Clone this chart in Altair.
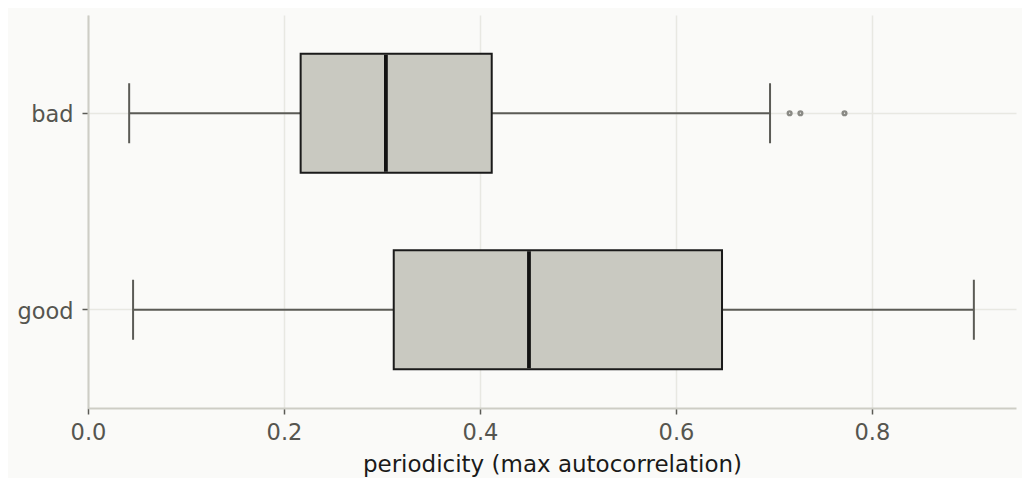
import altair as alt
import pandas as pd

# values
groups = ["bad", "good"]
whisker_lo = [0.042, 0.046]
q1 = [0.217, 0.312]
median = [0.304, 0.450]
q3 = [0.412, 0.647]
whisker_hi = [0.696, 0.904]

outlier_group = ["bad", "bad", "bad"]
outlier_value = [0.716, 0.727, 0.772]

stats = pd.DataFrame({
    "group": groups, "lo": whisker_lo, "q1": q1,
    "med": median, "q3": q3, "hi": whisker_hi,
})
outliers = pd.DataFrame({"group": outlier_group, "value": outlier_value})

FONT = "DejaVu Sans"

x_scale = alt.Scale(domain=[0, 0.947], nice=False, zero=False)
y_scale = alt.Scale(domain=groups, paddingInner=0, paddingOuter=0)

x_axis = alt.Axis(values=[0, 0.2, 0.4, 0.6, 0.8], format=".1f", grid=True,
                  labelFlush=False,
                  title="periodicity (max autocorrelation)")
y_axis = alt.Axis(title=None, grid=True, labelOffset=2)

base = alt.Chart(stats)

whisker = base.mark_rule(color="#5b5b56", strokeWidth=2).encode(
    x=alt.X("lo:Q", scale=x_scale, axis=x_axis),
    x2="hi:Q",
    y=alt.Y("group:N", scale=y_scale, axis=y_axis),
)

box = base.mark_bar(size=119, fill="#c9c9c1", stroke="#1a1a1a",
                    strokeWidth=2, opacity=1).encode(
    x=alt.X("q1:Q", scale=x_scale),
    x2="q3:Q",
    y=alt.Y("group:N", scale=y_scale),
)

med = base.mark_tick(size=117, thickness=3.8, color="#121212",
                     opacity=1).encode(
    x=alt.X("med:Q", scale=x_scale),
    y=alt.Y("group:N", scale=y_scale),
)

cap_lo = base.mark_tick(size=60, thickness=2, color="#5b5b56",
                        opacity=1).encode(
    x=alt.X("lo:Q", scale=x_scale),
    y=alt.Y("group:N", scale=y_scale),
)
cap_hi = base.mark_tick(size=60, thickness=2, color="#5b5b56",
                        opacity=1).encode(
    x=alt.X("hi:Q", scale=x_scale),
    y=alt.Y("group:N", scale=y_scale),
)

pts = alt.Chart(outliers).mark_point(size=14, filled=False, color="#8a8a85",
                                     strokeWidth=2.4, opacity=1).encode(
    x=alt.X("value:Q", scale=x_scale),
    y=alt.Y("group:N", scale=y_scale),
)

chart = (
    alt.layer(whisker, box, med, cap_lo, cap_hi, pts)
    .properties(
        width=928, height=393,
        autosize=alt.AutoSizeParams(type="none"),
        padding={"left": 80, "top": 7, "right": 6, "bottom": 70},
        background="#fafaf8",
    )
    .configure_view(strokeWidth=0, fill="#fafaf8")
    .configure_axis(
        labelFont=FONT, titleFont=FONT,
        labelFontSize=22.5, titleFontSize=23,
        labelColor="#55554f", titleColor="#1a1a1a",
        titleFontWeight="normal",
        domainColor="#cdcdc5", domainWidth=2,
        tickColor="#5b5b56", tickWidth=1.5, tickSize=6,
        gridColor="#e8e8e2", gridWidth=1.5,
    )
    .configure_axisX(labelPadding=7, titlePadding=10)
    .configure_axisY(labelPadding=9)
)

chart.save("out.html", embed_options={"renderer": "svg", "actions": False})
